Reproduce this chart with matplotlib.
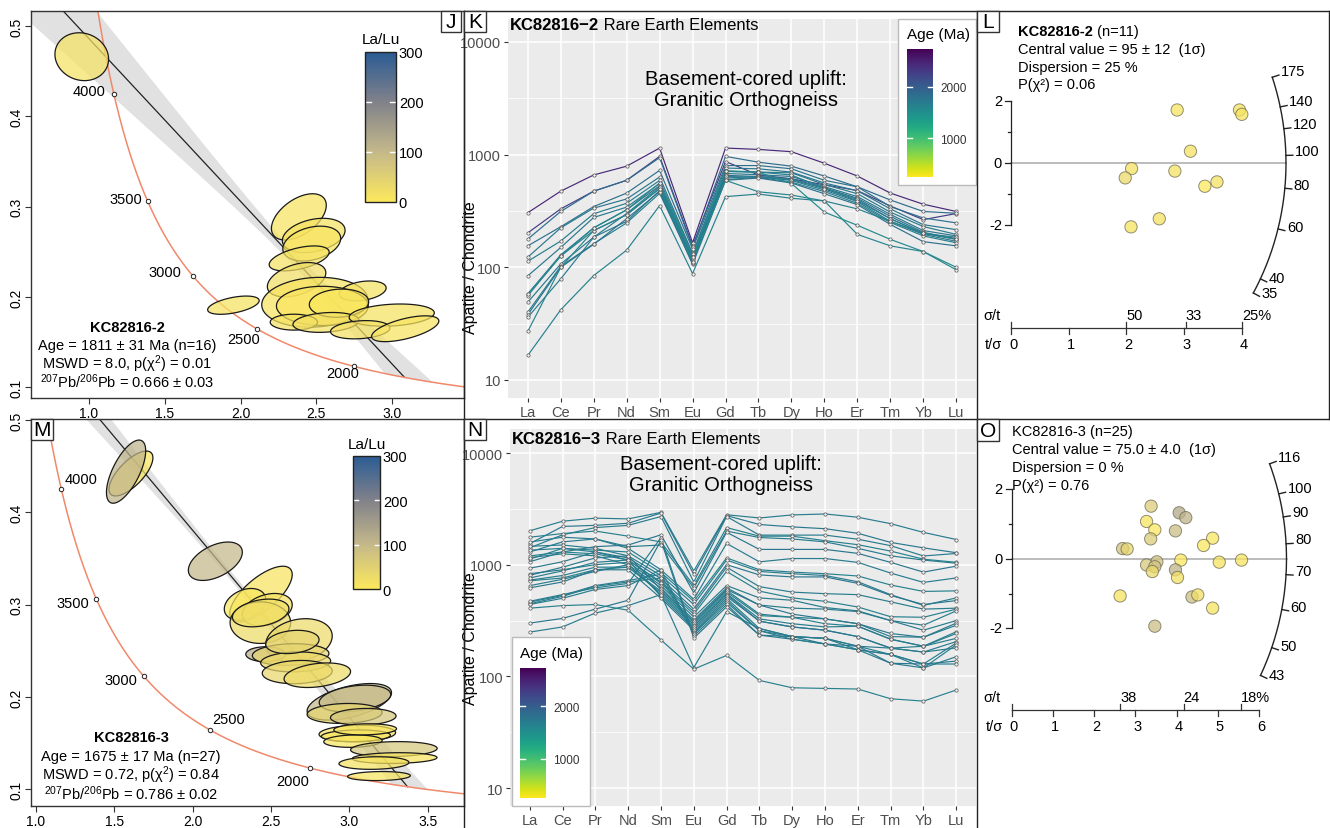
import numpy as np
import matplotlib
matplotlib.use("Agg")
import matplotlib.pyplot as plt
from matplotlib.colors import LinearSegmentedColormap, Normalize, to_rgba
from matplotlib.cm import ScalarMappable
from matplotlib.lines import Line2D
from matplotlib.patches import Rectangle, Polygon
from matplotlib.text import Annotation
from matplotlib.ticker import FormatStrFormatter, NullFormatter

plt.rcParams["font.family"] = ["Liberation Sans", "DejaVu Sans"]
plt.rcParams["mathtext.fontset"] = "custom"
plt.rcParams["mathtext.rm"] = "Liberation Sans"
plt.rcParams["mathtext.it"] = "Liberation Sans:italic"
plt.rcParams["mathtext.bf"] = "Liberation Sans:bold"

# ---------------- U-Pb analyses, Tera-Wasserburg (238U/206Pb, 207Pb/206Pb) ----------------
# KC82816-2
j_x = [0.952, 2.385, 2.483, 2.470, 2.387, 2.370, 2.490, 2.806, 2.540, 2.650, 1.953, 2.352, 2.564, 2.998, 2.790, 3.087]
j_ex = [0.177, 0.181, 0.207, 0.191, 0.198, 0.193, 0.350, 0.155, 0.303, 0.196, 0.170, 0.156, 0.218, 0.281, 0.196, 0.222]
j_y = [0.466, 0.2886, 0.268, 0.259, 0.2426, 0.219, 0.194, 0.2066, 0.190, 0.193, 0.1908, 0.172, 0.1717, 0.1798, 0.1636, 0.1647]
j_ey = [0.0265, 0.0256, 0.019, 0.0193, 0.0138, 0.019, 0.0276, 0.011, 0.0217, 0.0156, 0.0101, 0.0088, 0.011, 0.0123, 0.0101, 0.0143]
j_rho = [-0.1, 0.5, 0.3, 0.3, 0.5, 0.4, 0.1, 0.3, 0.0, 0.1, 0.5, 0.0, 0.2, 0.2, 0.2, 0.6]
j_lalu = [15, 10, 12, 8, 14, 20, 10, 12, 6, 5, 12, 14, 16, 12, 14, 10]
j_age, j_age_err, j_n = 1811, 31, 16
j_mswd, j_pchi = 8.0, 0.01
j_pb76, j_pb76_err = 0.666, 0.03

# KC82816-3
m_x = [1.607, 1.576, 2.145, 2.436, 2.334, 2.476, 2.432, 2.678, 2.466, 2.625, 2.657, 2.667, 2.795, 2.999, 3.035,
       2.969, 3.088, 3.050, 3.041, 3.022, 3.283, 3.288, 3.156, 3.188, 2.434, 2.636, 3.100]
m_ex = [0.140, 0.125, 0.172, 0.199, 0.132, 0.159, 0.193, 0.212, 0.127, 0.244, 0.223, 0.223, 0.212, 0.269, 0.228,
        0.239, 0.209, 0.244, 0.220, 0.186, 0.276, 0.270, 0.223, 0.200, 0.180, 0.170, 0.200]
m_y = [0.442, 0.444, 0.347, 0.3115, 0.3004, 0.2946, 0.2805, 0.2614, 0.2463, 0.246, 0.238, 0.227, 0.2236, 0.1948, 0.1984,
       0.1822, 0.1786, 0.1605, 0.158, 0.1522, 0.1436, 0.1339, 0.1285, 0.1144, 0.291, 0.2596, 0.165]
m_ey = [0.0243, 0.0342, 0.0208, 0.0301, 0.0171, 0.0175, 0.0225, 0.0234, 0.0081, 0.0117, 0.0108, 0.0126, 0.0133, 0.0198,
        0.0144, 0.0108, 0.009, 0.009, 0.0063, 0.0067, 0.0081, 0.0058, 0.0068, 0.0049, 0.015, 0.0126, 0.006]
m_rho = [0.7, 0.66, 0.47, 0.7, 0.3, 0.3, 0.0, 0.2, 0.0, 0.1, 0.1, 0.1, 0.3, 0.5, 0.3, 0.1, 0.1, 0.1, 0.1, 0.1,
         0.1, 0.1, 0.1, 0.1, 0.3, 0.2, 0.1]
m_lalu = [8, 110, 100, 10, 5, 12, 25, 30, 120, 40, 30, 35, 25, 100, 95, 40, 70, 15, 5, 8, 70, 10, 12, 8, 20, 40, 10]
m_age, m_age_err, m_n = 1675, 17, 27
m_mswd, m_pchi = 0.72, 0.84
m_pb76, m_pb76_err = 0.786, 0.02

# regression confidence band: pivot x, half-width at pivot, slope term
j_band = (2.35, 0.008, 0.0295)
m_band = (2.25, 0.005, 0.018)

CONC_AGES = [2000, 2500, 3000, 3500, 4000]
LAMBDA238, LAMBDA235, U85 = 1.55125e-4, 9.8485e-4, 137.818   # per Ma

# ---------------- REE, chondrite normalised ----------------
ELEMENTS = ["La", "Ce", "Pr", "Nd", "Sm", "Eu", "Gd", "Tb", "Dy", "Ho", "Er", "Tm", "Yb", "Lu"]

k_ree = [
    [305, 474, 660, 790, 1144, 165, 1144, 1113, 1062, 839, 646, 456, 363, 313],
    [202, 330, 474, 592, 965, 155, 868, 660, 610, 540, 480, 350, 265, 300],
    [178, 313, 474, 592, 940, 150, 965, 857, 790, 646, 518, 396, 313, 302],
    [155, 229, 346, 456, 725, 145, 800, 800, 749, 592, 518, 346, 274, 248],
    [123, 224, 335, 404, 633, 133, 760, 749, 700, 560, 478, 330, 239, 216],
    [113, 171, 299, 370, 590, 130, 710, 700, 690, 543, 450, 309, 230, 196],
    [84, 150, 277, 342, 554, 124, 680, 664, 640, 520, 424, 295, 212, 190],
    [58, 129, 224, 324, 530, 120, 655, 640, 612, 508, 410, 283, 205, 177],
    [56, 126, 212, 293, 500, 118, 640, 629, 600, 500, 400, 270, 200, 180],
    [49, 107, 185, 256, 480, 114, 620, 640, 590, 485, 383, 256, 196, 170],
    [40, 102, 162, 248, 453, 110, 600, 629, 570, 470, 370, 250, 190, 165],
    [38, 100, 160, 270, 470, 106, 592, 620, 560, 450, 360, 240, 169, 155],
    [36, 79, 185, 300, 520, 110, 710, 700, 660, 500, 390, 270, 200, 185],
    [27, 100, 212, 293, 500, 112, 592, 468, 438, 388, 196, 155, 138, 95],
    [16.5, 42, 84.5, 142, 353, 88, 424, 447, 410, 388, 330, 256, 200, 177],
    [58, 126, 224, 324, 560, 124, 720, 700, 554, 309, 236, 177, 138, 100],
]
k_ages = [2450, 2300, 1850, 1800, 1750, 1700, 1750, 1800, 1700, 1750, 1650, 1800, 1700, 1600, 1650, 1550]

n_ree = [
    [2010, 2450, 2610, 2570, 2940, 880, 2800, 2620, 2790, 2845, 2660, 2330, 1945, 1680],
    [1541, 2200, 2250, 2350, 2900, 820, 2750, 2290, 2180, 2100, 1910, 1583, 1414, 1280],
    [1414, 1850, 2150, 2250, 2700, 700, 2700, 1840, 1840, 1840, 1690, 1480, 1197, 1260],
    [1762, 1900, 2000, 1800, 1600, 650, 2150, 1800, 1800, 1640, 1510, 1323, 1120, 1050],
    [1300, 1600, 1700, 1450, 1500, 620, 2000, 1750, 1700, 1600, 1400, 1200, 1100, 1030],
    [1062, 1300, 1450, 1500, 1850, 560, 1950, 1370, 1370, 1370, 1262, 1048, 858, 971],
    [1593, 1762, 1700, 1400, 900, 490, 1550, 1060, 1135, 1135, 1048, 841, 694, 761],
    [1120, 1400, 1350, 1300, 850, 470, 1150, 900, 858, 830, 792, 658, 576, 583],
    [1462, 1500, 1400, 1200, 800, 440, 1100, 870, 830, 800, 703, 539, 432, 504],
    [929, 1062, 1300, 1150, 750, 400, 1000, 810, 777, 777, 680, 530, 440, 477],
    [1349, 1400, 1300, 1100, 700, 380, 950, 636, 568, 550, 539, 465, 400, 408],
    [1197, 1300, 1250, 1100, 680, 360, 870, 580, 504, 470, 418, 342, 338, 400],
    [830, 900, 1000, 1050, 650, 340, 650, 504, 480, 413, 386, 316, 287, 386],
    [1158, 1250, 1200, 1000, 620, 320, 620, 435, 408, 400, 380, 316, 259, 316],
    [803, 950, 1150, 1200, 600, 310, 600, 435, 361, 327, 296, 242, 224, 300],
    [727, 800, 950, 950, 580, 300, 590, 361, 338, 327, 296, 227, 224, 287],
    [717, 760, 900, 950, 560, 290, 570, 350, 338, 296, 281, 215, 186, 251],
    [649, 740, 870, 1000, 540, 280, 550, 327, 296, 277, 281, 215, 186, 242],
    [760, 880, 1050, 1100, 520, 270, 540, 312, 277, 259, 227, 179, 186, 219],
    [620, 700, 900, 900, 500, 260, 520, 312, 277, 259, 227, 179, 165, 205],
    [462, 530, 650, 720, 820, 250, 500, 268, 227, 219, 186, 157, 129, 199],
    [447, 520, 640, 700, 760, 245, 480, 256, 215, 195, 173, 157, 119, 192],
    [440, 500, 600, 650, 900, 240, 460, 256, 227, 219, 186, 179, 165, 180],
    [470, 540, 620, 680, 1750, 230, 440, 234, 215, 195, 173, 131, 119, 150],
    [300, 330, 400, 480, 1650, 220, 420, 234, 227, 195, 186, 131, 129, 137],
    [249, 277, 369, 430, 540, 120, 380, 268, 227, 219, 173, 157, 129, 129],
    [408, 430, 440, 391, 212, 116, 154, 92, 79, 78, 77, 63, 60, 75.5],
]
n_ages = [1700, 1750, 1700, 1650, 1700, 1750, 1700, 1650, 1700, 1750, 1700, 1650, 1700, 1700, 1750,
          1700, 1650, 1700, 1700, 1750, 1700, 1650, 1700, 1700, 1750, 1700, 1650]
AGE_LIMITS = (250, 2730)

# ---------------- radial plots (fission track) ----------------
l_tsig = [2.88, 3.96, 4.00, 3.11, 2.09, 1.98, 2.84, 3.36, 3.57, 2.57, 2.08]
l_z = [1.71, 1.71, 1.57, 0.38, -0.18, -0.48, -0.26, -0.75, -0.61, -1.80, -2.06]
l_lalu = [10, 10, 10, 12, 14, 30, 12, 0, 12, 12, 10]
l_central, l_central_err, l_disp, l_pchi = 95, 12, 25, 0.06
l_arc = [35, 40, 60, 80, 100, 120, 140, 175]
l_pct = [50, 33, 25]

o_tsig = [3.38, 4.06, 4.22, 3.27, 3.47, 3.97, 3.37, 4.87, 4.65, 2.69, 2.80, 4.10, 3.52, 5.03, 5.57,
          3.27, 3.47, 3.41, 3.97, 4.02, 2.63, 4.37, 4.51, 4.87, 3.47]
o_z = [1.51, 1.32, 1.18, 1.07, 0.83, 0.80, 0.57, 0.59, 0.38, 0.29, 0.28, -0.04, -0.09, -0.10, -0.04,
       -0.18, -0.23, -0.37, -0.32, -0.54, -1.07, -1.10, -1.04, -1.42, -1.94]
o_lalu = [60, 130, 110, 10, 5, 90, 60, 5, 5, 80, 40, 0, 80, 10, 10, 70, 80, 30, 110, 15, 10, 90, 20, 10, 90]
o_central, o_central_err, o_disp, o_pchi = 75.0, 4.0, 0, 0.76
o_arc = [43, 50, 60, 70, 80, 90, 100, 116]
o_pct = [38, 24, 18]

# ---------------- colour scales ----------------
cmap_lalu = LinearSegmentedColormap.from_list(
    "lalu", [(0, "#FCE85C"), (0.33, "#C5B98A"), (0.67, "#80818A"), (1, "#2B5C94")])
norm_lalu = Normalize(0, 300)
cmap_age = plt.get_cmap("viridis_r")
norm_age = Normalize(*AGE_LIMITS)

W, H = 1330, 829
fig = plt.figure(figsize=(W / 100, H / 100), dpi=100)


def fx(x):
    return x / W


def fy(y):
    return 1 - y / H


def px_axes(x0, y0, x1, y1):
    return fig.add_axes([fx(x0), fy(y1), (x1 - x0) / W, (y1 - y0) / H])


def fig_line(x0, y0, x1, y1, color="#222222", lw=1.0):
    fig.add_artist(Line2D([fx(x0), fx(x1)], [fy(y0), fy(y1)], transform=fig.transFigure,
                          color=color, lw=lw, zorder=8))


def letter_box(x0, y0, x1, y1, letter):
    fig.add_artist(Rectangle((fx(x0), fy(y1)), (x1 - x0) / W, (y1 - y0) / H, transform=fig.transFigure,
                             fc="white", ec="#333333", lw=1, zorder=9))
    fig.text(fx((x0 + x1) / 2), fy((y0 + y1) / 2 + 0.5), letter, ha="center", va="center",
             fontsize=15, zorder=10)


def bold_then_text(x, y, bold, rest, size, ha="left"):
    t = fig.text(fx(x), fy(y), bold, fontweight="bold", fontsize=size, ha=ha, va="center")
    fig.add_artist(Annotation(rest, xy=(1, 0.5), xycoords=t, ha="left", va="center", fontsize=size))
    return t


def tw_point(t):
    e8 = np.exp(LAMBDA238 * np.asarray(t, float)) - 1
    e5 = np.exp(LAMBDA235 * np.asarray(t, float)) - 1
    return 1 / e8, e5 / e8 / U85


def ellipse_poly(cx, cy, ex, ey, r, n=120):
    th = np.linspace(0, 2 * np.pi, n)
    return np.column_stack([cx + ex * np.cos(th),
                            cy + ey * (r * np.cos(th) + np.sqrt(1 - r * r) * np.sin(th))])


def tw_panel(ax, x, ex, y, ey, rho, lalu, age, pb76, band, xticks, xlim, ylim, lab_off):
    ax.set_xlim(*xlim)
    ax.set_ylim(*ylim)
    # discordia: common-Pb intercept to the concordia age
    xc, yc = tw_point(age)
    slope = (yc - pb76) / xc
    xs = np.linspace(0, xc + 0.5, 400)
    ys = pb76 + slope * xs
    xp, w0, sw = band
    w = np.sqrt(w0 ** 2 + ((xs - xp) * sw) ** 2)
    # envelope is cut off where it runs below the concordia at the lower intercept
    cx_lo, cy_lo = tw_point(np.linspace(2600, 150, 400))
    y_conc = np.interp(xs, cx_lo, cy_lo)
    lower = np.where(xs > cx_lo[0], np.maximum(ys - w, y_conc), ys - w)
    upper = ys + w
    ax.fill_between(xs, lower, upper, where=upper > lower, color="#E1E1E1", lw=0, zorder=1)
    line_x = np.linspace(0, xc, 50)
    ax.plot(line_x, pb76 + slope * line_x, color="#222222", lw=0.9, zorder=2)
    cx, cy = tw_point(np.linspace(600, 4700, 500))
    ax.plot(cx, cy, color="#F0896B", lw=1.1, zorder=2)
    for i in range(len(x)):
        pts = ellipse_poly(x[i], y[i], ex[i], ey[i], rho[i])
        ax.add_patch(Polygon(pts, closed=True, fc=to_rgba(cmap_lalu(norm_lalu(lalu[i])), 0.72),
                             ec="#1A1A1A", lw=0.9, zorder=3))
    for a, (dx, dy) in zip(CONC_AGES, lab_off):
        px, py = tw_point(a)
        ax.plot(px, py, "o", ms=3.2, mfc="white", mec="#222222", mew=0.7, zorder=5)
        ax.annotate(str(a), (px, py), xytext=(dx, -dy), textcoords="offset pixels",
                    ha="center", va="center", fontsize=10.5, zorder=5)
    ax.set_xticks(xticks)
    ax.set_yticks([0.1, 0.2, 0.3, 0.4, 0.5])
    ax.xaxis.set_major_formatter(FormatStrFormatter("%.1f"))
    ax.yaxis.set_major_formatter(FormatStrFormatter("%.1f"))
    ax.tick_params(length=4, width=0.8, color="#333333", labelsize=10, pad=1.5)
    for lab in ax.get_yticklabels():
        lab.set_rotation(90)
        lab.set_va("center")
    for s in ax.spines.values():
        s.set_color("#333333")
        s.set_linewidth(1)


def lalu_bar(x0, y0, x1, y1, title_y):
    cax = px_axes(x0, y0, x1, y1)
    cax.set_zorder(5)
    cb = fig.colorbar(ScalarMappable(norm_lalu, cmap_lalu), cax=cax)
    cb.set_ticks([0, 100, 200, 300])
    cax.tick_params(length=0, labelsize=10.5, pad=2)
    cb.outline.set_edgecolor("#222222")
    cb.outline.set_linewidth(1)
    for v in (100, 200):
        cax.plot([0, 0.18], [v, v], color="white", lw=1)
        cax.plot([0.82, 1], [v, v], color="white", lw=1)
    fig.text(fx((x0 + x1) / 2), fy(title_y), "La/Lu", ha="center", va="center", fontsize=11, zorder=6)


def ree_panel(ax, table, ages, ylim):
    ax.set_facecolor("#EBEBEB")
    xs = np.arange(len(ELEMENTS))
    for row, a in zip(table, ages):
        ax.plot(xs, row, color=cmap_age(norm_age(a)), lw=0.85, zorder=3)
        ax.plot(xs, row, "o", ms=2.4, mfc="#F2F2F2", mec="#555555", mew=0.5, zorder=4)
    ax.set_yscale("log")
    ax.set_ylim(*ylim)
    ax.set_xlim(-0.6, len(ELEMENTS) - 0.4)
    ax.set_xticks(xs, ELEMENTS)
    ax.set_yticks([10, 100, 1000, 10000], ["10", "100", "1000", "10000"])
    ax.set_yticks(10 ** np.array([1.5, 2.5, 3.5]), minor=True)
    ax.yaxis.set_minor_formatter(NullFormatter())
    ax.grid(True, which="major", color="white", lw=1.1)
    ax.grid(True, which="minor", axis="y", color="white", lw=0.55)
    ax.set_axisbelow(True)
    for s in ax.spines.values():
        s.set_visible(False)
    ax.tick_params(which="major", length=3, width=0.8, color="#333333", labelcolor="#4D4D4D",
                   labelsize=10.5, pad=2)
    ax.tick_params(which="minor", length=0)


def age_legend(box, bar, title_xy):
    x0, y0, x1, y1 = box
    fig.add_artist(Rectangle((fx(x0), fy(y1)), (x1 - x0) / W, (y1 - y0) / H, transform=fig.transFigure,
                             fc="white", ec="#BBBBBB", lw=1, zorder=4))
    fig.text(fx(title_xy[0]), fy(title_xy[1]), "Age (Ma)", ha="left", va="center", fontsize=11, zorder=6)
    cax = px_axes(*bar)
    cax.set_zorder(6)
    cb = fig.colorbar(ScalarMappable(norm_age, cmap_age), cax=cax)
    cb.outline.set_visible(False)
    cb.set_ticks([1000, 2000])
    cax.tick_params(length=0, labelsize=8.5, pad=5, labelcolor="#333333")
    for v in (1000, 2000):
        cax.plot([0, 0.2], [v, v], color="white", lw=1)
        cax.plot([0.8, 1], [v, v], color="white", lw=1)


def radial_panel(cell, origin, scale, tsig, z, lalu, z0, arc, pct, tmax, axis_py):
    x0, y0, x1, y1 = cell
    ox, oy = origin
    sx, sy = scale
    ax = px_axes(*cell)
    ax.set_xlim((x0 - ox) / sx, (x1 - ox) / sx)
    ax.set_ylim((oy - y1) / sy, (oy - y0) / sy)
    ax.set_axis_off()
    R = 275

    def arc_pt(s, r):
        n = np.hypot(sx, sy * s)
        return r / n, r * s / n

    ss = np.log(np.geomspace(min(arc), max(arc), 200) / z0)
    ax.plot(*arc_pt(ss, R), color="#222222", lw=1, clip_on=False)
    for t in arc:
        s = np.log(t / z0)
        a0, a1 = arc_pt(s, R), arc_pt(s, R + 7)
        ax.plot([a0[0], a1[0]], [a0[1], a1[1]], color="#222222", lw=1, clip_on=False)
        ax.annotate(str(t), arc_pt(s, R + 8), xytext=(1, 4), textcoords="offset pixels",
                    ha="left", va="center", fontsize=10.5)
    ax.plot([0, R / sx], [0, 0], color="#AAAAAA", lw=1.1, zorder=1)
    # standardised estimate axis
    ax.plot([0, 0], [-2, 2], color="#222222", lw=0.9)
    for v in range(-2, 3):
        ln = 6 if v % 2 == 0 else 3
        ax.plot([-ln / sx, 0], [v, v], color="#222222", lw=0.9)
    for v in (-2, 0, 2):
        ax.text(-9 / sx, v, str(v), ha="right", va="center", fontsize=10.5)
    ax.scatter(tsig, z, s=78, c=lalu, cmap=cmap_lalu, norm=norm_lalu, alpha=0.75,
               edgecolors="#6E6A50", linewidths=0.7, zorder=3)
    # precision axis
    yb = (oy - axis_py) / sy
    ax.plot([0, tmax], [yb, yb], color="#333333", lw=0.9)
    for k in range(tmax + 1):
        ax.plot([k, k], [yb, yb - 6 / sy], color="#333333", lw=0.9)
        ax.text(k + 2 / sx, yb - 16 / sy, str(k), ha="center", va="center", fontsize=10.5)
    for xv in [0] + [100 / p for p in pct]:
        ax.plot([xv, xv], [yb, yb + 6 / sy], color="#333333", lw=0.9)
    for i, p in enumerate(pct):
        lab = f"{p}%" if i == len(pct) - 1 else str(p)
        ax.text(100 / p, yb + 13 / sy, lab, ha="left", va="center", fontsize=10.5)
    ax.text(-28 / sx, yb + 13 / sy, "σ/t", ha="left", va="center", fontsize=10.5)
    ax.text(-26 / sx, yb - 16 / sy, "t/σ", ha="left", va="center", fontsize=10.5)
    return ax


# ---------------- J / M : Tera-Wasserburg ----------------
ax_j = px_axes(31, 12, 464, 399)
tw_panel(ax_j, j_x, j_ex, j_y, j_ey, j_rho, j_lalu, j_age, j_pb76, j_band,
         [1.0, 1.5, 2.0, 2.5, 3.0], (0.617, 3.475), (0.088, 0.5166),
         [(-11, 7), (-14, 10), (-28, -4), (-22, -2), (-25, -3)])
lalu_bar(365, 53, 396, 203, 40)
fig.text(fx(127), fy(328), "KC82816-2", ha="center", va="center", fontsize=10.5, fontweight="bold")
fig.text(fx(127), fy(346), f"Age = {j_age} ± {j_age_err} Ma (n={j_n})", ha="center", va="center", fontsize=10.5)
fig.text(fx(127), fy(364), f"MSWD = {j_mswd:.1f}, p(χ$^2$) = {j_pchi:.2f}", ha="center", va="center", fontsize=10.5)
fig.text(fx(127), fy(382), f"$^{{207}}$Pb/$^{{206}}$Pb = {j_pb76:.3f} ± {j_pb76_err:.2f}",
         ha="center", va="center", fontsize=10.5)

ax_m = px_axes(31, 420, 464, 807)
tw_panel(ax_m, m_x, m_ex, m_y, m_ey, m_rho, m_lalu, m_age, m_pb76, m_band,
         [1.0, 1.5, 2.0, 2.5, 3.0, 3.5], (0.97, 3.73), (0.082, 0.501),
         [(-17, 13), (19, -11), (-23, 4), (-24, 4), (20, -10)])
lalu_bar(353, 457, 380, 590, 445)
fig.text(fx(131), fy(738), "KC82816-3", ha="center", va="center", fontsize=10.5, fontweight="bold")
fig.text(fx(131), fy(757), f"Age = {m_age} ± {m_age_err} Ma (n={m_n})", ha="center", va="center", fontsize=10.5)
fig.text(fx(131), fy(775), f"MSWD = {m_mswd:.2f}, p(χ$^2$) = {m_pchi:.2f}", ha="center", va="center", fontsize=10.5)
fig.text(fx(131), fy(794), f"$^{{207}}$Pb/$^{{206}}$Pb = {m_pb76:.3f} ± {m_pb76_err:.2f}",
         ha="center", va="center", fontsize=10.5)

# ---------------- K / N : REE spider plots ----------------
ax_k = px_axes(508, 20, 976, 399)
ree_panel(ax_k, k_ree, k_ages, (10 ** 0.840, 10 ** 4.204))
bold_then_text(510, 26, "KC82816−2", " Rare Earth Elements", 12)
fig.text(fx(746), fy(90), "Basement-cored uplift:\nGranitic Orthogneiss", ha="center", va="center",
         fontsize=14.5, linespacing=1.15)
fig.text(fx(471), fy(268), "Apatite / Chondrite", rotation=90, ha="center", va="center", fontsize=11.5)
age_legend((898, 20, 976, 186), (907, 50, 933, 178), (907, 35))

ax_n = px_axes(510, 430, 976, 807)
ree_panel(ax_n, n_ree, n_ages, (10 ** 0.839, 10 ** 4.215))
bold_then_text(512, 439, "KC82816−3", " Rare Earth Elements", 12)
fig.text(fx(721), fy(475), "Basement-cored uplift:\nGranitic Orthogneiss", ha="center", va="center",
         fontsize=14.5, linespacing=1.15)
fig.text(fx(471), fy(639), "Apatite / Chondrite", rotation=90, ha="center", va="center", fontsize=11.5)
age_legend((512, 638, 590, 807), (520, 669, 546, 799), (520, 654))

# ---------------- L / O : radial plots ----------------
radial_panel((977, 12, 1330, 420), (1011, 164), (57.7, 31.0), l_tsig, l_z, l_lalu,
             l_central, l_arc, l_pct, 4, 329)
bold_then_text(1018, 32, "KC82816-2", " (n=11)", 10.5)
fig.text(fx(1018), fy(50), f"Central value = {l_central} ± {l_central_err}  (1σ)", va="center", fontsize=10.5)
fig.text(fx(1018), fy(68), f"Dispersion = {l_disp} %", va="center", fontsize=10.5)
fig.text(fx(1018), fy(85), f"P(χ²) = {l_pchi:.2f}", va="center", fontsize=10.5)

radial_panel((977, 420, 1330, 829), (1011.5, 559.7), (41.3, 34.8), o_tsig, o_z, o_lalu,
             o_central, o_arc, o_pct, 6, 711)
fig.text(fx(1012), fy(432), f"KC82816-3 (n={len(o_z)})", va="center", fontsize=10.5)
fig.text(fx(1012), fy(450), f"Central value = {o_central:.1f} ± {o_central_err:.1f}  (1σ)", va="center", fontsize=10.5)
fig.text(fx(1012), fy(468), f"Dispersion = {o_disp} %", va="center", fontsize=10.5)
fig.text(fx(1012), fy(486), f"P(χ²) = {o_pchi:.2f}", va="center", fontsize=10.5)

# ---------------- frames and panel letters ----------------
fig_line(464, 12, 464, 829)
fig_line(977, 12, 977, 829)
fig_line(464, 12, 1330, 12)
fig_line(464, 420, 1330, 420)
fig_line(1329, 12, 1329, 420)

letter_box(441, 12, 461, 33, "J")
letter_box(464, 12, 486, 33, "K")
letter_box(977, 12, 999, 33, "L")
letter_box(31, 420, 53, 441, "M")
letter_box(464, 420, 486, 441, "N")
letter_box(977, 420, 999, 442, "O")

fig.savefig("out.png", dpi=100)
